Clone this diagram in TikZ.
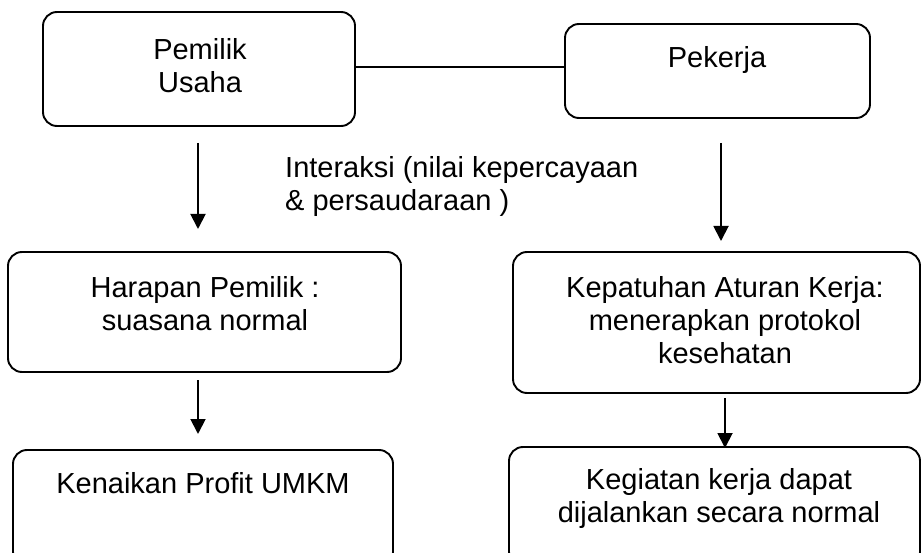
\documentclass[tikz,border=0pt]{standalone}
\usepackage{fontspec}
\setmainfont{Liberation Sans}
\usetikzlibrary{arrows.meta}
\begin{document}
\begin{tikzpicture}[x=1bp,y=-1bp,
  box/.style={draw, line width=1.9bp, rounded corners=14bp, inner sep=0pt, outer sep=0pt},
  txt/.style={inner sep=0pt, align=center, font=\fontsize{29bp}{33bp}\selectfont},
  conn/.style={line width=1.9bp},
  arr/.style={line width=1.9bp, -{Triangle[length=15bp,width=15bp]}}]
\useasboundingbox (0,0) rectangle (921,553);
% boxes
\node[box, minimum width=312bp, minimum height=114bp] (b1) at (199,69) {};
\node[box, minimum width=305bp, minimum height=94bp] (b2) at (717.5,71) {};
\node[box, minimum width=393bp, minimum height=120bp] (b3) at (204.5,312) {};
\node[box, minimum width=407bp, minimum height=141bp] (b4) at (716.5,322.5) {};
\node[box, minimum width=380bp, minimum height=116bp] (b5) at (203,508) {};
\node[box, minimum width=411bp, minimum height=119bp] (b6) at (714.5,506.5) {};
% texts
\node[txt] (t1) at (200,66) {Pemilik\\Usaha};
\node[txt] (t2) at (717,60) {Pekerja};
\node[txt, anchor=west, align=left] (ti) at (285,187) {Interaksi (nilai kepercayaan\\\& persaudaraan )};
\node[txt] (t3) at (205,303.5) {Harapan Pemilik :\\suasana normal};
\node[txt] (t4) at (725,320) {Kepatuhan Aturan Kerja:\\menerapkan protokol\\kesehatan};
\node[txt] (t5) at (203,483) {Kenaikan Profit UMKM};
\node[txt] (t6) at (719,498.5) {Kegiatan kerja dapat\\dijalankan secara normal};
% connector coordinates
\coordinate (a1s) at (198,143);
\coordinate (a1e) at (198,229);
\coordinate (a2s) at (198,380);
\coordinate (a2e) at (198,434);
\coordinate (a3s) at (721,143);
\coordinate (a3e) at (721,241);
\coordinate (a4s) at (725,398);
\coordinate (a4e) at (725,448);
% connectors
\draw[conn] (b1.east |- 0,67) -- (b2.west |- 0,67);
\draw[arr] (a1s) -- (a1e);
\draw[arr] (a2s) -- (a2e);
\draw[arr] (a3s) -- (a3e);
\draw[arr] (a4s) -- (a4e);
\end{tikzpicture}
\end{document}
